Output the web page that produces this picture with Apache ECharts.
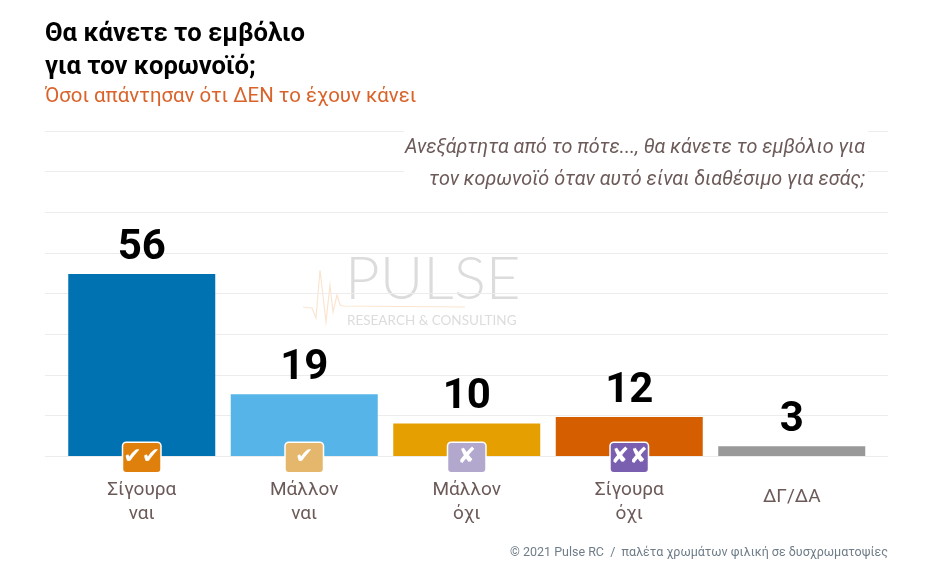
<!DOCTYPE html>
<html>
<head>
<meta charset="utf-8">
<style>
  html, body { margin: 0; padding: 0; background: #fff; }
  #chart { width: 940px; height: 564px; }
</style>
<script src="https://cdn.jsdelivr.net/npm/echarts@6/dist/echarts.min.js"></script>
</head>
<body>
<div id="chart"></div>
<script>
// data
const categories = ['Σίγουρα\nναι', 'Μάλλον\nναι', 'Μάλλον\nόχι', 'Σίγουρα\nόχι', 'ΔΓ/ΔΑ'];
const values = [56, 19, 10, 12, 3];
const barColors = ['#0072B2', '#56B4E9', '#E69F00', '#D55E00', '#999999'];
const badgeMarks = ['✔✔', '✔', '✘', '✘✘', ''];
const badgeColors = ['#E0800C', '#E4B76C', '#B2A8CE', '#7A5FB0', ''];

const textFont = 'Roboto, "Noto Sans", sans-serif';

// 徽章和类别文字放在同一个 rich 标签里
const richStyles = {
  line: { fontFamily: textFont, fontSize: 19, color: '#6b5a58', lineHeight: 24, align: 'center' },
  single: { fontFamily: textFont, fontSize: 19, color: '#6b5a58', lineHeight: 38, align: 'center' },
  blank: { width: 38, height: 29, lineHeight: 29 },
  gap: { fontSize: 4, lineHeight: 6 }
};
badgeColors.forEach((color, i) => {
  if (!color) return;
  richStyles['badge' + i] = {
    width: 37, height: 29, lineHeight: 29, align: 'center',
    backgroundColor: color, borderColor: '#fff', borderWidth: 1.5, borderRadius: 3,
    color: '#fff', fontFamily: '"DejaVu Sans"', fontSize: 22, fontWeight: 'bold'
  };
});

function formatCategory(value, index) {
  const lines = value.split('\n');
  if (!badgeColors[index]) return '{blank| }\n{gap| }\n{single|' + value + '}';
  return '{badge' + index + '|' + badgeMarks[index] + '}\n{gap| }\n' +
    lines.map(l => '{line|' + l + '}').join('\n');
}

const chart = echarts.init(document.getElementById('chart'));

chart.setOption({
  backgroundColor: '#fff',
  animation: false,
  title: [
    { text: 'Θα κάνετε το εμβόλιο\nγια τον κορωνοϊό;', left: 40, top: 13,
      textStyle: { fontFamily: textFont, fontSize: 25.6, fontWeight: 'bold', color: '#000', lineHeight: 33 } },
    { text: 'Όσοι απάντησαν ότι ΔΕΝ το έχουν κάνει', left: 40, top: 82,
      textStyle: { fontFamily: textFont, fontSize: 20.4, fontWeight: 'normal', color: '#D9632A' } },
    { text: '© 2021 Pulse RC  /  παλέτα χρωμάτων φιλική σε δυσχρωματοψίες', right: 47, top: 541,
      textStyle: { fontFamily: textFont, fontSize: 12.5, fontWeight: 'normal', color: '#6f7d88' } }
  ],
  // grid 0 只画横向网格线，比柱子区域更宽
  grid: [
    { left: 45, right: 52, top: 131, height: 325 },
    { left: 60.5, width: 812.5, top: 131, height: 325 }
  ],
  xAxis: [
    { type: 'value', gridIndex: 0, show: false },
    {
      type: 'category', gridIndex: 1, data: categories, z: 5,
      axisLine: { show: false }, axisTick: { show: false },
      axisLabel: { interval: 0, margin: -13, formatter: formatCategory, rich: richStyles }
    }
  ],
  yAxis: [
    {
      type: 'value', gridIndex: 0, min: 0, max: 100, interval: 12.5,
      axisLine: { show: false }, axisTick: { show: false }, axisLabel: { show: false },
      splitLine: { lineStyle: { color: '#ececec', width: 1 } }
    },
    { type: 'value', gridIndex: 1, min: 0, max: 100, show: false, splitLine: { show: false } }
  ],
  series: [{
    type: 'bar',
    xAxisIndex: 1,
    yAxisIndex: 1,
    barWidth: 147,
    data: values.map((v, i) => ({ value: v, itemStyle: { color: barColors[i] } })),
    label: {
      show: true, position: 'top', distance: 5,
      fontFamily: textFont,
      fontSize: 42, fontWeight: 'bold', color: '#000'
    }
  }],
  graphic: [
    // 水印
    { type: 'text', left: 345, top: 250, silent: true,
      style: { text: 'PULSE', font: '300 60px Lato, sans-serif', fill: '#dcdcdc' } },
    { type: 'text', left: 347, top: 314, silent: true,
      style: { text: 'RESEARCH & CONSULTING', font: '13.5px Lato, sans-serif', fill: '#dcdcdc' } },
    { type: 'polyline', silent: true,
      shape: { points: [[303, 307], [312, 308], [316, 318], [320, 270], [326, 322], [330, 285], [333, 312], [337, 295], [340, 305], [343, 306], [465, 307]] },
      style: { stroke: '#fbe5d0', lineWidth: 1.2, fill: null } },
    // 问题文字，白底遮住网格线
    { type: 'rect', silent: true, shape: { x: 404, y: 128, width: 464, height: 66 },
      style: { fill: '#fff' }, z: 1 },
    { type: 'text', z: 2, silent: true, x: 865, y: 148,
      style: { text: 'Ανεξάρτητα από το πότε..., θα κάνετε το εμβόλιο για', align: 'right', verticalAlign: 'middle',
        font: 'italic 19.8px Roboto, sans-serif', fill: '#6b5a58' } },
    { type: 'text', z: 2, silent: true, x: 865, y: 180,
      style: { text: 'τον κορωνοϊό όταν αυτό είναι διαθέσιμο για εσάς;', align: 'right', verticalAlign: 'middle',
        font: 'italic 19.8px Roboto, sans-serif', fill: '#6b5a58' } }
  ]
});
</script>
</body>
</html>
